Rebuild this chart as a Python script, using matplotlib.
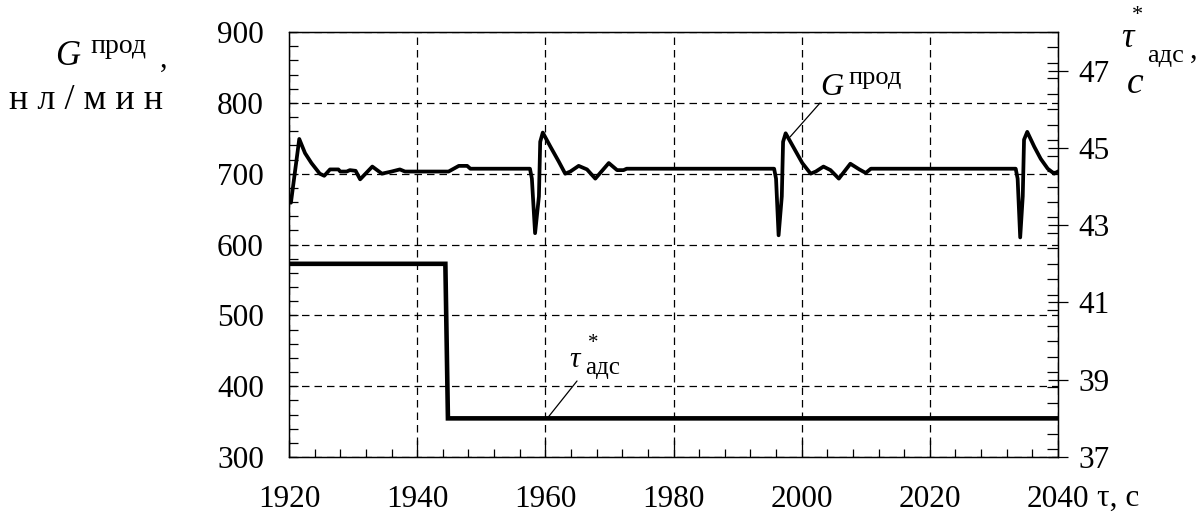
import matplotlib
matplotlib.use("Agg")
import matplotlib.pyplot as plt
from matplotlib.ticker import MultipleLocator

plt.rcParams['font.family'] = ['Liberation Serif', 'DejaVu Serif']

# G^прод, нл/мин  (left axis)
t_g = [1920.0, 1920.3, 1921.4, 1921.6, 1922.5, 1923.5, 1924.8, 1925.5, 1926.4, 1927.7,
       1928.0, 1929.0, 1929.5, 1930.4, 1931.1, 1933.0, 1934.5, 1936.0, 1937.3, 1938.1,
       1944.9, 1946.5, 1947.8, 1948.3, 1957.6,
       1957.9, 1958.4, 1959.0, 1959.2, 1959.6, 1960.8, 1962.1, 1963.1, 1963.9, 1965.2,
       1966.5, 1967.8, 1969.9, 1971.2, 1972.2, 1972.7, 1995.7,
       1996.0, 1996.4, 1996.9, 1997.1, 1997.5, 1998.8, 2000.1, 2001.4, 2002.2, 2003.4,
       2004.5, 2005.8, 2007.6, 2009.0, 2010.0, 2010.8, 2033.4,
       2033.7, 2034.1, 2034.5, 2034.7, 2035.2, 2036.3, 2037.3, 2038.4, 2039.4, 2040.0]
g_prod = [660, 659, 735, 749, 729, 715, 700, 697, 706, 706,
          703, 703, 705, 704, 692, 710, 700, 703, 706, 703,
          703, 711, 711, 707, 707,
          693, 616, 668, 745, 758, 738, 717, 700, 703, 711,
          706, 693, 715, 705, 705, 707, 707,
          693, 613, 668, 745, 757, 736, 715, 700, 703, 710,
          705, 693, 714, 706, 701, 707, 707,
          693, 610, 668, 748, 759, 738, 721, 707, 700, 703]

# tau*_адс, c  (right axis)
t_tau = [1920.0, 1944.4, 1944.8, 2040.0]
tau_ads = [42.0, 42.0, 38.0, 38.0]

W, H = 1204, 526
fig = plt.figure(figsize=(W / 100, H / 100), dpi=100)
ax = fig.add_axes([289 / W, 1 - 457 / H, (1058 - 289) / W, (457 - 32) / H])
ax2 = ax.twinx()

ax.plot(t_g, g_prod, color='black', lw=2.7, solid_joinstyle='round', zorder=3)
ax2.plot(t_tau, tau_ads, color='black', lw=3.3, solid_joinstyle='miter', zorder=3)

ax.set_xlim(1920, 2040)
ax.set_ylim(300, 900)
ax2.set_ylim(37, 48)

ax.xaxis.set_major_locator(MultipleLocator(20))
ax.xaxis.set_minor_locator(MultipleLocator(4))
ax.yaxis.set_major_locator(MultipleLocator(100))
ax.yaxis.set_minor_locator(MultipleLocator(20))
ax2.yaxis.set_minor_locator(MultipleLocator(0.4))
ax2.set_yticks([37, 39, 41, 43, 45, 47])

ax.grid(True, which='major', color='black', lw=0.9, ls=(0, (6, 4)))
ax.set_axisbelow(True)

ax.tick_params(axis='x', which='both', direction='in', top=False, labelsize=22.5, pad=20, width=0.9)
ax.tick_params(axis='x', which='major', length=12)
ax.tick_params(axis='x', which='minor', length=6)
ax.tick_params(axis='y', which='both', direction='in', right=False, length=6.5, width=0.9,
               labelsize=22.5, pad=18)
ax2.tick_params(axis='y', which='major', direction='inout', length=14, width=0.9,
                labelsize=22.5, pad=8)
ax2.tick_params(axis='y', which='minor', direction='in', length=8, width=0.9)

for a in (ax, ax2):
    for s in a.spines.values():
        s.set_linewidth(0.9)
        s.set_color('black')

# axis titles
def ftext(x, y, s, **kw):
    fig.text(x / W, 1 - y / H, s, va='baseline', **kw)

ftext(55, 65, 'G', fontsize=25, style='italic')
ftext(90, 53, 'прод', fontsize=20)
ftext(160, 67, ',', fontsize=22)
ftext(9, 109, 'н л / м и н', fontsize=26)

ftext(1121, 47, 'τ', fontsize=25, style='italic')
fig.text(1137 / W, 1 - 16 / H, '*', fontsize=16, ha='center', va='center')
ftext(1147, 62, 'адс', fontsize=19)
ftext(1190, 58, ',', fontsize=22)
ftext(1127, 93, 'c', fontsize=27, style='italic')

ftext(1097, 506, 'τ, c', fontsize=22.5)

# curve labels with leaders
ax.annotate('', xy=(1998.2, 752), xytext=(820, H - 103), textcoords='figure pixels',
            arrowprops=dict(arrowstyle='-', color='black', lw=0.9, shrinkA=0, shrinkB=0))
ftext(820, 95, 'G', fontsize=23, style='italic')
ftext(848, 84, 'прод', fontsize=19)

ax2.annotate('', xy=(1960.3, 38.0), xytext=(577, H - 381), textcoords='figure pixels',
             arrowprops=dict(arrowstyle='-', color='black', lw=0.9, shrinkA=0, shrinkB=0))
ftext(569, 367, 'τ', fontsize=21, style='italic')
fig.text(593 / W, 1 - 344 / H, '*', fontsize=15, ha='center', va='center')
ftext(585, 374, 'адс', fontsize=18)

fig.savefig('out.png', dpi=100)
